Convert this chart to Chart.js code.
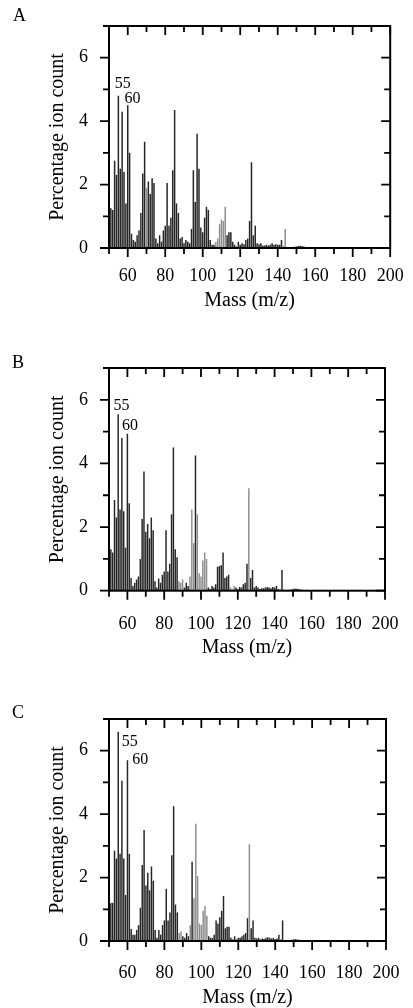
<!DOCTYPE html>
<html><head><meta charset="utf-8">
<script src="https://cdn.jsdelivr.net/npm/chart.js@4.4.1/dist/chart.umd.min.js"></script>
<style>
html,body{margin:0;padding:0;background:#fff;width:413px;height:1008px;overflow:hidden}
canvas{position:absolute;left:0}
</style></head><body>
<canvas id="cA" width="413" height="330" style="top:0px;width:413px;height:330px"></canvas>
<canvas id="cB" width="413" height="340" style="top:330px;width:413px;height:340px"></canvas>
<canvas id="cC" width="413" height="338" style="top:670px;width:413px;height:338px"></canvas>
<script>
// ---- data ----
const masses = [
 51,52,53,54,55,56,57,58,59,60,
 61,62,63,64,65,66,67,68,69,70,
 71,72,73,74,75,76,77,78,79,80,
 81,82,83,84,85,86,87,88,89,90,
 91,92,93,94,95,96,97,98,99,100,
 101,102,103,104,105,106,107,108,109,110,
 111,112,113,114,115,116,117,118,119,120,
 121,122,123,124,125,126,127,128,129,130,
 131,132,133,134,135,136,137,138,139,140,
 141,142,143,144,145,146,147,148,149,150,
 151,152,153,154,155];
const ionCountA = [
 1.25,1.2,2.75,2.3,4.8,2.5,4.3,2.4,1.4,4.5,
 3.0,0.45,0.25,0.2,0.4,0.55,1.1,2.35,3.35,1.9,
 2.1,1.7,2.2,2.05,0.3,0.15,0.4,0.2,0.55,0.7,
 2.05,0.7,0.95,2.45,4.35,1.4,1.1,0.3,0.35,0.15,
 0.25,0.2,0.15,0.6,2.45,1.45,3.6,2.5,0.65,0.5,
 0.95,1.3,1.2,0.25,0.1,0.1,0.2,0.3,0.75,0.9,
 0.85,1.3,0.4,0.5,0.5,0.2,0.1,0.05,0.2,0.1,
 0.15,0.12,0.25,0.3,0.85,2.7,0.4,0.7,0.15,0.12,
 0.15,0.08,0.08,0.1,0.08,0.1,0.15,0.1,0.12,0.1,
 0.1,0.25,0.05,0.6,0.03,0.03,0.02,0.03,0.04,0.05,
 0.06,0.07,0.06,0.05,0.03];
const ionCountB = [
 1.3,1.2,2.85,2.3,5.55,2.55,4.8,2.5,1.35,4.93,
 2.75,0.4,0.15,0.25,0.35,0.45,1.0,2.25,3.75,1.85,
 2.1,1.65,2.3,1.9,0.3,0.1,0.38,0.25,0.5,0.6,
 1.9,0.6,0.85,2.4,4.5,1.3,1.05,0.3,0.25,0.35,
 0.1,0.25,0.15,0.45,2.55,1.5,4.25,2.4,0.55,0.45,
 0.95,1.2,1.0,0.1,0.05,0.15,0.1,0.2,0.75,0.78,
 0.8,1.2,0.4,0.45,0.5,0.1,0.05,0.15,0.1,0.05,
 0.12,0.1,0.2,0.25,0.85,3.22,0.4,0.65,0.1,0.15,
 0.1,0.05,0.08,0.08,0.1,0.12,0.1,0.08,0.12,0.1,
 0.15,0.05,0.03,0.65,0.03,0.02,0.02,0.03,0.04,0.05,
 0.07,0.06,0.05,0.04,0.03];
const ionCountC = [
 1.2,1.2,2.85,2.6,6.6,2.75,5.05,2.6,1.45,5.7,
 2.75,0.38,0.2,0.2,0.35,0.5,1.05,2.4,3.5,1.75,
 2.15,1.6,2.35,1.9,0.35,0.1,0.35,0.2,0.5,0.65,
 1.65,0.65,0.9,2.7,4.25,1.15,0.9,0.25,0.3,0.15,
 0.1,0.25,0.15,0.5,2.5,1.35,3.7,2.05,0.55,0.5,
 0.95,1.1,0.8,0.15,0.1,0.1,0.2,0.65,0.55,0.75,
 0.95,1.42,0.4,0.45,0.45,0.1,0.05,0.15,0.05,0.1,
 0.1,0.15,0.2,0.25,0.72,3.05,0.4,0.65,0.1,0.08,
 0.1,0.05,0.08,0.06,0.1,0.12,0.1,0.08,0.1,0.06,
 0.08,0.2,0.05,0.65,0.03,0.02,0.02,0.03,0.04,0.05,
 0.06,0.05,0.04,0.03,0.02];
const xTickLabels = [60,80,100,120,140,160,180,200];
const yTickLabels = [0,2,4,6];
const peakMasses = [55,60];
const panelLetters = ['A','B','C'];
const xTitle = 'Mass (m/z)';
const yTitle = 'Percentage ion count';

// ---- styling ----
const SERIF = '"Liberation Serif","DejaVu Serif",serif';
const lightA = [70,107,108,109,110,111,112,144];
const lightB = [88,89,90,94,95,96,98,99,100,101,102,103,116,117,118,126];
const lightC = [88,89,94,96,97,98,99,100,101,102,103,126];

const frameTicks = {
  id:'frameTicks',
  afterDraw(chart, args, o){
    const {ctx, chartArea:a, scales:{x, y}} = chart;
    ctx.save();
    ctx.strokeStyle = '#000';
    ctx.lineWidth = 2;
    ctx.strokeRect(a.left, a.top, a.right-a.left, a.bottom-a.top);
    ctx.lineWidth = 1.8;
    ctx.beginPath();
    x.ticks.forEach(t => {
      const px = x.getPixelForValue(t.value);
      const L = (t.value % 20 === 0) ? 9 : 6;
      ctx.moveTo(px, a.bottom); ctx.lineTo(px, a.bottom + L);
      ctx.moveTo(px, a.top); ctx.lineTo(px, a.top + L);
    });
    y.ticks.forEach(t => {
      const py = y.getPixelForValue(t.value);
      const L = (t.value % 2 === 0) ? 9 : 6;
      ctx.moveTo(a.left - L, py); ctx.lineTo(a.left, py);
      ctx.moveTo(a.right, py); ctx.lineTo(a.right - L, py);
    });
    ctx.stroke();
    ctx.fillStyle = '#000';
    ctx.textAlign = 'left';
    ctx.textBaseline = 'alphabetic';
    ctx.font = '16px ' + SERIF;
    o.peaks.forEach((p, i) => {
      const m = peakMasses[i];
      const v = o.values[masses.indexOf(m)];
      ctx.fillText(String(m), x.getPixelForValue(m) + p.dx, y.getPixelForValue(v) + p.dy);
    });
    ctx.font = '18px ' + SERIF;
    ctx.fillText(o.letter, o.letterX, o.letterY);
    ctx.restore();
  }
};

function makeChart(id, values, light, cfg){
  const axisH = cfg.titleY + 16 - cfg.base;
  new Chart(document.getElementById(id), {
    type:'bar',
    data:{datasets:[{
      data: masses.map((m,i)=>({x:m, y:values[i]})),
      backgroundColor: c => (c.raw && light.includes(c.raw.x)) ? '#8e8e8e' : '#262626',
      borderWidth:0, barPercentage:0.8, categoryPercentage:1, grouped:false
    }]},
    options:{
      responsive:false, animation:false, events:[],
      layout:{padding:{left:0, right:15, top:cfg.top - cfg.y0, bottom:(cfg.y0 + cfg.H) - (cfg.titleY + 16)}},
      plugins:{legend:{display:false}, tooltip:{enabled:false},
        frameTicks:{peaks:cfg.peaks, values:values, letter:cfg.letter, letterX:cfg.letterX, letterY:cfg.letterY - cfg.y0}},
      scales:{
        x:{type:'linear', min:50, max:200, offset:false,
           grid:{display:false}, border:{display:false},
           ticks:{stepSize:10, autoSkip:false, maxRotation:0, padding:cfg.xPad, color:'#000',
                  font:{family:SERIF, size:18}, callback:v => xTickLabels.includes(v) ? String(v) : ''},
           title:{display:true, text:xTitle, color:'#000', font:{family:SERIF, size:20}, padding:{top:0, bottom:4}},
           afterFit:s => { s.height = axisH; }},
        y:{min:0, max:7,
           grid:{display:false}, border:{display:false},
           ticks:{stepSize:1, autoSkip:false, padding:13, color:'#000',
                  font:{family:SERIF, size:18}, callback:v => yTickLabels.includes(v) ? String(v) : ''},
           title:{display:true, text:yTitle, color:'#000', font:{family:SERIF, size:20}, padding:{top:46, bottom:0}},
           afterFit:s => { s.width = 109; }}
      }
    },
    plugins:[frameTicks]
  });
}

makeChart('cA', ionCountA, lightA, {y0:0, H:330, top:26, base:248, titleY:301, xPad:9.3,
  letter:panelLetters[0], letterX:13, letterY:21,
  peaks:[{dx:-3.6, dy:-7.8},{dx:-3.3, dy:-2.3}]});
makeChart('cB', ionCountB, lightB, {y0:330, H:340, top:368, base:590.7, titleY:648, xPad:14.5,
  letter:panelLetters[1], letterX:12, letterY:368,
  peaks:[{dx:-4.6, dy:-4},{dx:-5.3, dy:-4}]});
makeChart('cC', ionCountC, lightC, {y0:670, H:338, top:719, base:941, titleY:998, xPad:13.5,
  letter:panelLetters[2], letterX:12, letterY:718,
  peaks:[{dx:3.4, dy:14},{dx:4.7, dy:3.7}]});
</script>
</body></html>
